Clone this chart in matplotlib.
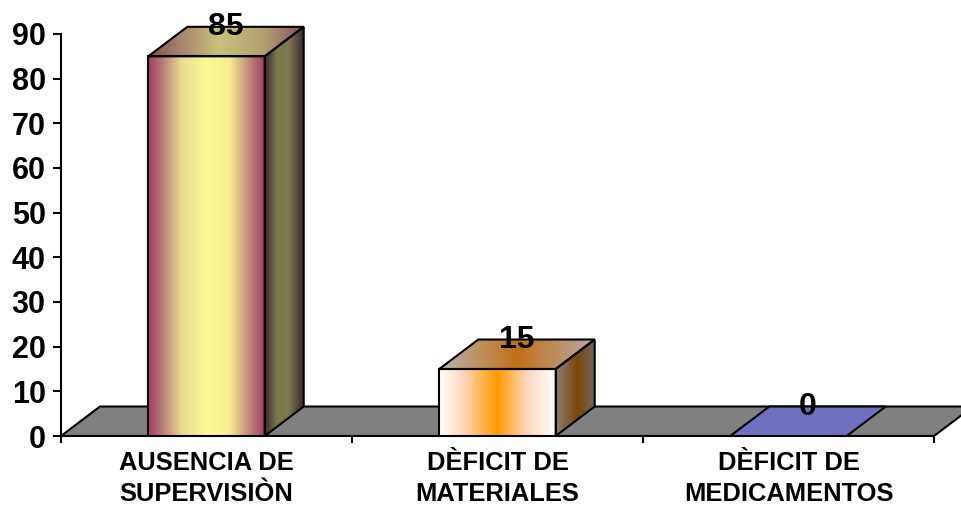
import matplotlib.pyplot as plt
import numpy as np
from matplotlib.colors import LinearSegmentedColormap
from matplotlib.patches import Polygon

categories = ['AUSENCIA DE\nSUPERVISIÒN', 'DÈFICIT DE\nMATERIALES', 'DÈFICIT DE\nMEDICAMENTOS']
values = [85, 15, 0]
yticks = [0, 10, 20, 30, 40, 50, 60, 70, 80, 90]

plt.rcParams['font.family'] = ['Liberation Sans', 'DejaVu Sans']
plt.rcParams['font.weight'] = 'bold'

# fake 3D depth of the floor/bars (x in category units, y in value units)
DEPTH_X = 0.134
DEPTH_Y = 6.6
BAR_W = 0.4

# gradient stops per bar face
FACES = [
    {'front': [(0, '#9e3f66'), (0.1, '#b27074'), (0.28, '#e8d890'), (0.5, '#fcfc96'),
               (0.7, '#f4ee90'), (0.88, '#bc8078'), (1, '#9e3f66')],
     'side': [(0, '#3e2a34'), (0.3, '#787846'), (0.6, '#7d7c4c'), (1, '#3c2434')],
     'top': [(0, '#85505c'), (0.45, '#c8c27c'), (0.75, '#b0a070'), (1, '#8f4d64')]},
    {'front': [(0, '#ffffff'), (0.2, '#ffd8bc'), (0.5, '#ff9900'), (0.75, '#ffd6c0'),
               (1, '#ffffff')],
     'side': [(0, '#8a8078'), (0.55, '#7c4606'), (1, '#6e6860')],
     'top': [(0, '#bbb3ad'), (0.5, '#c07018'), (1, '#b9aba5')]},
    {'flat': '#7070c0'},
]


def shade(ax, verts, colors):
    verts = np.asarray(verts, dtype=float)
    cmap = LinearSegmentedColormap.from_list('face', colors)
    poly = Polygon(verts, closed=True, fc='none', ec='black', lw=1.5, zorder=4)
    x0, x1 = verts[:, 0].min(), verts[:, 0].max()
    y0, y1 = verts[:, 1].min(), verts[:, 1].max()
    im = ax.imshow(np.linspace(0, 1, 256)[None, :], cmap=cmap,
                   extent=[x0, x1, y0, y1], aspect='auto', zorder=3,
                   interpolation='bilinear')
    ax.add_patch(poly)
    im.set_clip_path(poly)


fig = plt.figure(figsize=(9.62, 5.07), dpi=100)
ax = fig.add_axes([61 / 962, 71 / 507, 3.2 * 291 / 962, 100 * 4.467 / 507])

# floor
floor = [(0, 0), (len(values), 0), (len(values) + DEPTH_X, DEPTH_Y), (DEPTH_X, DEPTH_Y)]
ax.add_patch(Polygon(floor, closed=True, fc='#808080', ec='black', lw=1.5, zorder=2))

for i, (v, face) in enumerate(zip(values, FACES)):
    x0 = i + 0.5 - BAR_W / 2
    x1 = i + 0.5 + BAR_W / 2
    if v == 0:
        flat = [(x0, 0), (x1, 0), (x1 + DEPTH_X, DEPTH_Y), (x0 + DEPTH_X, DEPTH_Y)]
        ax.add_patch(Polygon(flat, closed=True, fc=face['flat'], ec='black',
                             lw=1.5, zorder=3))
    else:
        shade(ax, [(x0, 0), (x1, 0), (x1, v), (x0, v)], face['front'])
        shade(ax, [(x1, 0), (x1 + DEPTH_X, DEPTH_Y), (x1 + DEPTH_X, v + DEPTH_Y), (x1, v)],
              face['side'])
        shade(ax, [(x0, v), (x1, v), (x1 + DEPTH_X, v + DEPTH_Y), (x0 + DEPTH_X, v + DEPTH_Y)],
              face['top'])
    ax.text(i + 0.5 + DEPTH_X / 2, v + DEPTH_Y, str(v), ha='center', va='center',
            fontsize=23, zorder=6)
    ax.text(i + 0.5, -3.4, categories[i], ha='center', va='top', fontsize=18.4,
            linespacing=1.38)

ax.set_xlim(0, 3.2)
ax.set_ylim(0, 100)

for side in ['top', 'right']:
    ax.spines[side].set_visible(False)
ax.spines['left'].set_bounds(0, 90)
ax.spines['bottom'].set_bounds(0, 3)
ax.spines['left'].set_linewidth(1.5)
ax.spines['bottom'].set_linewidth(1.5)

ax.set_yticks(yticks)
ax.tick_params(axis='y', direction='out', length=6, width=1.5, pad=5, labelsize=22)
ax.set_xticks([0, 1, 2, 3])
ax.set_xticklabels([])
ax.tick_params(axis='x', direction='out', length=5, width=1.5)
ax.patch.set_visible(False)

fig.savefig('out.png', dpi=100, facecolor='white')
